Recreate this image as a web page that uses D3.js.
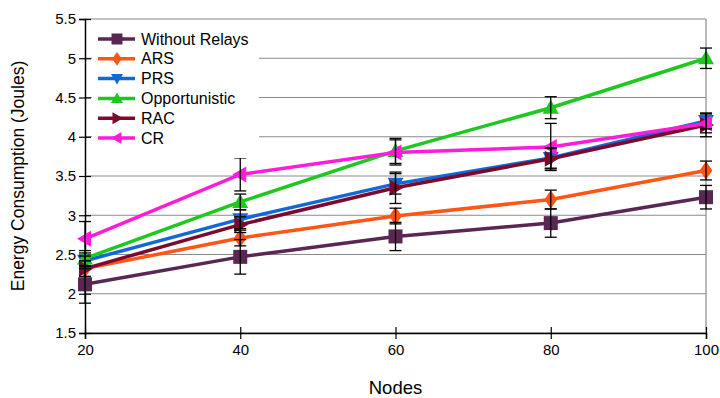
<!DOCTYPE html>
<html><head><meta charset="utf-8">
<script src="https://cdn.jsdelivr.net/npm/d3@7"></script>
<style>body{margin:0;background:#fff}svg{display:block}text{font-family:"Liberation Sans",Arial,sans-serif}</style>
</head><body><svg id="c" width="720" height="398"></svg>
<script>
const nodes = [20, 40, 60, 80, 100];
const seriesNames = ["Without Relays", "ARS", "PRS", "Opportunistic", "RAC", "CR"];
const withoutRelays = [2.12, 2.47, 2.73, 2.90, 3.23];
const ars = [2.32, 2.71, 2.99, 3.20, 3.57];
const prs = [2.42, 2.95, 3.40, 3.73, 4.20];
const opportunistic = [2.45, 3.17, 3.82, 4.37, 5.00];
const rac = [2.32, 2.88, 3.35, 3.72, 4.15];
const cr = [2.70, 3.52, 3.80, 3.87, 4.17];
const errWithout = [0.24, 0.22, 0.18, 0.18, 0.15];
const errArs = [0.10, 0.10, 0.10, 0.12, 0.12];
const errPrs = [0.10, 0.12, 0.13, 0.13, 0.10];
const errOpp = [0.10, 0.10, 0.16, 0.14, 0.13];
const errRac = [0.10, 0.10, 0.20, 0.13, 0.15];
const errCr = [0.22, 0.21, 0.16, 0.30, 0.12];
const yTicks = [1.5, 2, 2.5, 3, 3.5, 4, 4.5, 5, 5.5];
const colors = ["#5a2652", "#ff5618", "#1168d6", "#1ec81e", "#7c0a2c", "#ff1cd8"];
const markers = ["square", "diamond", "triDown", "triUp", "triRight", "triLeft"];
const values = [withoutRelays, ars, prs, opportunistic, rac, cr];
const errs = [errWithout, errArs, errPrs, errOpp, errRac, errCr];

const svg = d3.select("#c");
const L = 85, R = 706, T = 19, B = 333;
const x = d3.scaleLinear().domain([20, 100]).range([L, R]);
const y = d3.scaleLinear().domain([1.5, 5.5]).range([B, T]);

function markerPath(type, s) {
  const h = s / 2;
  switch (type) {
    case "square": return `M${-h},${-h}H${h}V${h}H${-h}Z`;
    case "diamond": return `M0,${-h*1.15}L${h*0.8},0L0,${h*1.15}L${-h*0.8},0Z`;
    case "triDown": return `M${-h},${-h*0.75}H${h}L0,${h}Z`;
    case "triUp": return `M${-h},${h*0.75}H${h}L0,${-h}Z`;
    case "triRight": return `M${-h*0.75},${-h}V${h}L${h},0Z`;
    case "triLeft": return `M${h*0.75},${-h}V${h}L${-h},0Z`;
  }
}

// gridlines
svg.append("g").selectAll("line").data(yTicks).join("line")
  .attr("x1", L).attr("x2", R).attr("y1", d => y(d)).attr("y2", d => y(d))
  .attr("stroke", "#8a8a8a").attr("stroke-width", 1.2);
// right frame
svg.append("line").attr("x1", R).attr("x2", R).attr("y1", T).attr("y2", B)
  .attr("stroke", "#8a8a8a").attr("stroke-width", 1.2);

// y axis
const yAxis = svg.append("g").attr("transform", `translate(${L},0)`)
  .call(d3.axisLeft(y).tickValues(yTicks).tickFormat(d3.format("")).tickSize(6).tickPadding(4));
yAxis.select(".domain").attr("stroke", "#000").attr("stroke-width", 1.5);
yAxis.selectAll(".tick line").attr("x1", -6).attr("x2", 6).attr("stroke", "#000").attr("stroke-width", 1.2);
yAxis.selectAll("text").attr("font-size", 15).attr("fill", "#000").attr("x", -9);

// x axis
const xAxis = svg.append("g").attr("transform", `translate(0,${B})`)
  .call(d3.axisBottom(x).tickValues(nodes).tickSize(6).tickPadding(5));
xAxis.select(".domain").attr("stroke", "#000").attr("stroke-width", 1.5);
xAxis.selectAll(".tick line").attr("y1", -6).attr("y2", 6).attr("stroke", "#000").attr("stroke-width", 1.2);
xAxis.selectAll("text").attr("font-size", 15).attr("fill", "#000");

// series
values.forEach((vals, i) => {
  const pts = nodes.map((n, j) => [n, vals[j]]);
  svg.append("path").datum(pts)
    .attr("d", d3.line().x(d => x(d[0])).y(d => y(d[1])))
    .attr("fill", "none").attr("stroke", colors[i]).attr("stroke-width", 3.5);
  svg.append("g").selectAll("path").data(pts).join("path")
    .attr("transform", d => `translate(${x(d[0])},${y(d[1])})`)
    .attr("d", markerPath(markers[i], i === 0 ? 14 : 16))
    .attr("fill", colors[i]);
});

// error bars
values.forEach((vals, i) => {
  const g = svg.append("g").attr("stroke", "#000").attr("stroke-width", 1.3);
  nodes.forEach((n, j) => {
    const lo = y(vals[j] - errs[i][j]), hi = y(vals[j] + errs[i][j]), cx = x(n);
    g.append("line").attr("x1", cx).attr("x2", cx).attr("y1", lo).attr("y2", hi);
    g.append("line").attr("x1", cx - 6).attr("x2", cx + 6).attr("y1", lo).attr("y2", lo);
    g.append("line").attr("x1", cx - 6).attr("x2", cx + 6).attr("y1", hi).attr("y2", hi);
  });
});

// legend
const lg = svg.append("g");
lg.append("rect").attr("x", 92).attr("y", 26).attr("width", 167).attr("height", 132).attr("fill", "#fff");
seriesNames.forEach((name, i) => {
  const yy = 39 + i * 19.8;
  lg.append("line").attr("x1", 98).attr("x2", 135).attr("y1", yy).attr("y2", yy)
    .attr("stroke", colors[i]).attr("stroke-width", 3.5);
  lg.append("path").attr("transform", `translate(117,${yy})`)
    .attr("d", markerPath(markers[i], i === 0 ? 11 : 12)).attr("fill", colors[i]);
  lg.append("text").attr("x", 141).attr("y", yy).attr("dy", "0.35em")
    .attr("font-size", 16).attr("fill", "#000").text(name);
});

// titles
svg.append("text").attr("transform", `translate(24,${(T + B) / 2}) rotate(-90)`)
  .attr("text-anchor", "middle").attr("font-size", 17.5).attr("fill", "#000")
  .text("Energy Consumption (Joules)");
svg.append("text").attr("x", (L + R) / 2).attr("y", 394).attr("text-anchor", "middle")
  .attr("font-size", 18.5).attr("fill", "#000").text("Nodes");
</script></body></html>
